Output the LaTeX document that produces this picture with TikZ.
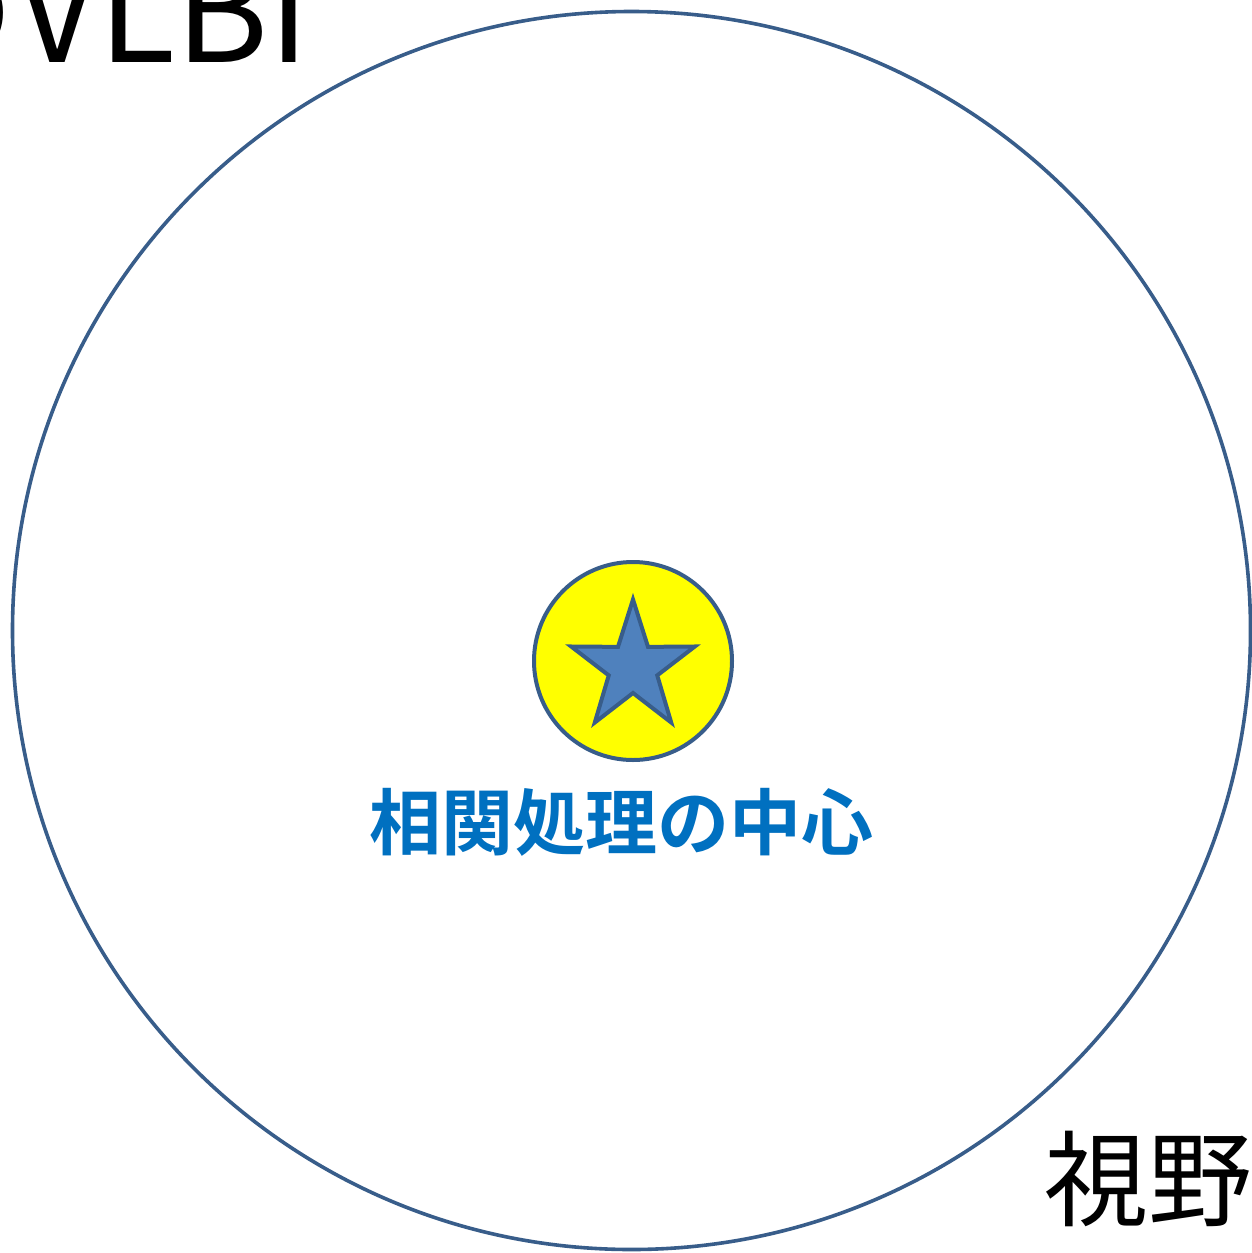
\documentclass[tikz,border=0pt]{standalone}
\usepackage{fontspec}
\newfontfamily\jpfont{Noto Sans CJK JP}
\newfontfamily\jpbold{Noto Sans CJK JP Bold}
\definecolor{edgeblue}{HTML}{385D8A}
\definecolor{starblue}{HTML}{4F81BD}
\definecolor{textblue}{HTML}{0070C0}
\definecolor{pureyellow}{HTML}{FFFF00}
\begin{document}
\begin{tikzpicture}[x=0.5pt,y=-0.5pt,
  bigcircle/.style={draw=edgeblue,line width=1.8pt},
  centerdisc/.style={draw=edgeblue,fill=pureyellow,line width=2pt},
  starshape/.style={draw=edgeblue,fill=starblue,line width=2pt,line join=miter},
  bigtext/.style={font=\jpfont\fontsize{52pt}{60pt}\selectfont,inner sep=0pt,text=black},
  headtext/.style={font=\jpfont\fontsize{71pt}{80pt}\selectfont,inner sep=0pt,text=black},
  labeltext/.style={font=\jpbold\fontsize{36pt}{42pt}\selectfont,inner sep=0pt,text=textblue}]
\useasboundingbox (0,0) rectangle (1252,1253);
\clip (0,0) rectangle (1252,1253);
\fill[white] (0,0) rectangle (1252,1253);
% field of view circle
\draw[bigcircle] (631.5,630.5) circle[radius=309.5pt];
% centre marker
\draw[centerdisc] (633,661) circle[radius=49.5pt];
\path[starshape]
  ({633+65*cos(90)},{667.5-68*sin(90)})
  \foreach \k in {0,...,4}{
    -- ({633+25.5*cos(126+72*\k)},{667.5-25.5*sin(126+72*\k)})
    -- ({633+65*cos(162+72*\k)},{667.5-68*sin(162+72*\k)})
  } -- cycle;
% labels
\node[labeltext] (centre) at (621.5,822) {相関処理の中心};
\node[headtext,anchor=base east] (vlbi) at (311,62) {のVLBI};
\node[bigtext,anchor=base west] (fov) at (1044,1218) {視野};
\end{tikzpicture}
\end{document}
